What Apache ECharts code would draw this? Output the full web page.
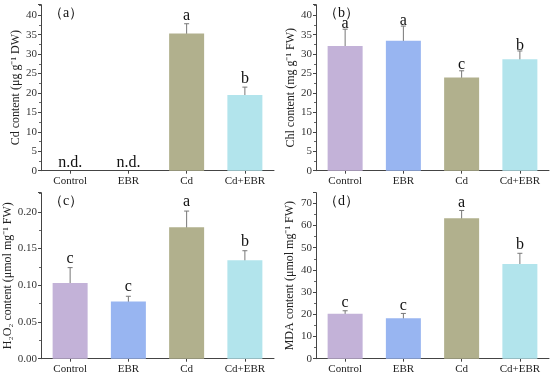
<!DOCTYPE html>
<html><head><meta charset="utf-8">
<script src="https://cdn.jsdelivr.net/npm/echarts@6/dist/echarts.min.js"></script>
<style>html,body{margin:0;padding:0;background:#fff}#c{width:550px;height:376px}</style>
</head><body><div id="c"></div>
<script>
const categories = ['Control', 'EBR', 'Cd', 'Cd+EBR'];
const barColors = ['#C3B2D8', '#98B5F1', '#B1B08D', '#B2E4EC'];

const cdValues = [0, 0, 35.3, 19.5];
const cdErrors = [0, 0, 2.5, 2.0];
const cdLetters = ['n.d.', 'n.d.', 'a', 'b'];

const chlValues = [32.1, 33.4, 24.0, 28.7];
const chlErrors = [4.3, 3.8, 1.7, 2.1];
const chlLetters = ['a', 'a', 'c', 'b'];

const h2o2Values = [0.103, 0.078, 0.179, 0.134];
const h2o2Errors = [0.021, 0.007, 0.022, 0.013];
const h2o2Letters = ['c', 'c', 'a', 'b'];

const mdaValues = [20.3, 18.2, 63.3, 42.7];
const mdaErrors = [1.3, 2.2, 3.5, 4.8];
const mdaLetters = ['c', 'c', 'a', 'b'];

const panelLabels = ['（a）', '（b）', '（c）', '（d）'];
const yNames = ['Cd content (μg g⁻¹ DW)', 'Chl content (mg g⁻¹ FW)', 'H₂O₂ content (μmol mg⁻¹ FW)', 'MDA content (μmol mg⁻¹ FW)'];
const yMax = [42.7, 42.7, 0.226, 74.8];
const yInterval = [5, 5, 0.05, 10];
const yDecimals = [0, 0, 2, 0];

const panels = [
  {v: cdValues, e: cdErrors, l: cdLetters},
  {v: chlValues, e: chlErrors, l: chlLetters},
  {v: h2o2Values, e: h2o2Errors, l: h2o2Letters},
  {v: mdaValues, e: mdaErrors, l: mdaLetters}
];

const FONT = '"Liberation Serif", "Times New Roman", serif';
const grids = [
  {left: 41, top: 4.7, width: 233, height: 166},
  {left: 316, top: 4.7, width: 233, height: 166},
  {left: 41, top: 192.7, width: 233, height: 166},
  {left: 316, top: 192.7, width: 233, height: 166}
];
const nameGaps = [18, 18, 24, 20];
const letterGaps = [8, 5.5, 9, 8];

const xAxes = [], yAxes = [], series = [], graphics = [];
panels.forEach((p, i) => {
  xAxes.push({
    gridIndex: i, type: 'category', data: categories,
    axisLine: {lineStyle: {color: '#444', width: 1}},
    axisTick: {show: true, alignWithLabel: true, length: 3, lineStyle: {color: '#444'}},
    axisLabel: {color: '#222', fontFamily: FONT, fontSize: 11, margin: 5}
  });
  yAxes.push({
    gridIndex: i, type: 'value', min: 0, max: yMax[i], interval: yInterval[i],
    name: yNames[i], nameLocation: 'middle', nameGap: nameGaps[i],
    nameTextStyle: {color: '#222', fontFamily: FONT, fontSize: 12},
    axisLine: {show: true, lineStyle: {color: '#444', width: 1}},
    axisTick: {show: true, length: 3, lineStyle: {color: '#444'}},
    minorTick: {show: true, splitNumber: 2, length: 2, lineStyle: {color: '#666'}},
    splitLine: {show: false},
    axisLabel: {color: '#333', fontFamily: FONT, fontSize: 11, margin: 4, showMaxLabel: false,
      formatter: v => (Math.abs(v / yInterval[i] - Math.round(v / yInterval[i])) > 1e-6) ? '' : v.toFixed(yDecimals[i])}
  });
  series.push({
    type: 'bar', xAxisIndex: i, yAxisIndex: i, barWidth: 35,
    data: p.v.map((v, k) => ({value: v, itemStyle: {color: barColors[k]}})),
    silent: true, animation: false
  });
  series.push({
    type: 'custom', xAxisIndex: i, yAxisIndex: i, silent: true, animation: false,
    data: p.v.map((v, k) => [k, v, p.e[k]]),
    renderItem: (params, api) => {
      const k = api.value(0), v = api.value(1), e = api.value(2);
      const letter = p.l[k];
      const top = api.coord([k, v + e]);
      const bot = api.coord([k, v - e]);
      const children = [];
      if (e > 0) {
        const cs = {stroke: '#777', lineWidth: 1};
        children.push({type: 'line', shape: {x1: top[0], y1: top[1], x2: bot[0], y2: bot[1]}, style: cs});
        children.push({type: 'line', shape: {x1: top[0] - 2.5, y1: top[1], x2: top[0] + 2.5, y2: top[1]}, style: cs});
        children.push({type: 'line', shape: {x1: bot[0] - 2.5, y1: bot[1], x2: bot[0] + 2.5, y2: bot[1]}, style: cs});
      }
      children.push({type: 'text', style: {text: letter, x: top[0], y: top[1] - letterGaps[i],
        textAlign: 'center', textVerticalAlign: 'middle', fill: '#111', font: '16px ' + FONT}});
      return {type: 'group', children};
    }
  });
  graphics.push({type: 'text', left: grids[i].left + 8, top: grids[i].top + 2,
    style: {text: panelLabels[i], fill: '#111', font: '14px ' + FONT}});
});

const chart = echarts.init(document.getElementById('c'), null, {renderer: 'canvas'});
chart.setOption({
  animation: false,
  backgroundColor: '#fff',
  grid: grids,
  xAxis: xAxes,
  yAxis: yAxes,
  series: series,
  graphic: graphics
});
</script></body></html>
